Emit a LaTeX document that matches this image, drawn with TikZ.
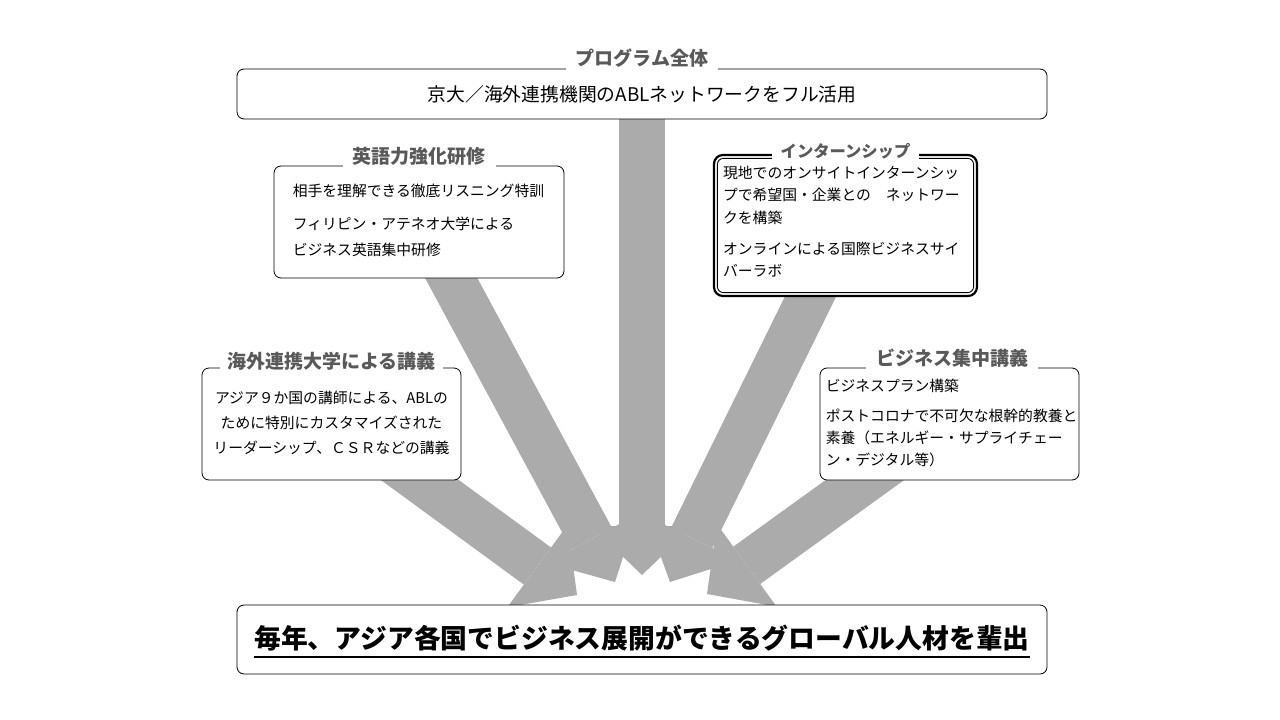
\documentclass[tikz,border=0pt]{standalone}
\usepackage{fontspec}
\setmainfont{Noto Sans CJK JP}
\usetikzlibrary{positioning,arrows.meta,backgrounds}
\definecolor{arrowgray}{RGB}{171,171,171}
\definecolor{titlegray}{RGB}{89,89,89}
\newcommand{\goalul}[1]{\setbox0\hbox{#1}\rlap{\rule[-9.5pt]{\wd0}{1.8pt}}\box0}

\begin{document}
\begin{tikzpicture}[x=1pt,y=-1pt,
    panel/.style={draw,fill=white,rounded corners=7pt,line width=0.8pt,inner sep=0pt},
    paneltitle/.style={fill=white,text=titlegray,font=\fontsize{19}{19}\selectfont\bfseries,inner xsep=10pt,inner ysep=3pt},
    paneltext/.style={inner sep=0pt,align=left,font=\fontsize{14.8}{22.5}\selectfont},
    fatarrow/.style={draw=arrowgray,line width=46pt,-{Triangle[length=49pt,width=102pt,line width=0pt]}}]
  \useasboundingbox (0,0) rectangle (1280,720);

  % whole programme
  \node[panel,minimum width=810pt,minimum height=50pt,font=\fontsize{18.8}{18.8}\selectfont] (prog) at (642,94) {京大／海外連携機関のABLネットワークをフル活用};
  \node[paneltitle] (progtitle) at ([yshift=10pt]prog.north) {プログラム全体};

  % english
  \node[panel,minimum width=290pt,minimum height=112pt] (eng) at (419,222) {};
  \node[paneltext,font=\fontsize{14.8}{26}\selectfont,below right=18.5pt and 19pt of eng.north west] (engtext)
    {相手を理解できる徹底リスニング特訓\\[7pt]フィリピン・アテネオ大学による\\ビジネス英語集中研修};
  \node[paneltitle] (engtitle) at ([yshift=9pt]eng.north) {英語力強化研修};

  % internship (double frame)
  \node[panel,line width=2.2pt,rounded corners=9pt,minimum width=263pt,minimum height=141pt] (intern) at (845.5,225.5) {};
  \draw[line width=0.9pt,rounded corners=6pt] ([shift={(4.5,4.5)}]intern.north west) rectangle ([shift={(-4.5,-4.5)}]intern.south east);
  \node[paneltext,below right=11.5pt and 10pt of intern.north west] (interntext)
    {現地でのオンサイトインターンシッ\\プで希望国・企業との　ネットワー\\クを構築\\[8.5pt]オンラインによる国際ビジネスサイ\\バーラボ};
  \node[paneltitle,font=\fontsize{16.3}{16.3}\selectfont\bfseries,inner xsep=9pt,inner ysep=1pt] (interntitle) at ([yshift=3pt]intern.north) {インターンシップ};

  % lectures by partner universities
  \node[panel,minimum width=259pt,minimum height=112pt] (lec) at (331.5,424) {};
  \node[paneltext,align=center,font=\fontsize{14.8}{25}\selectfont] (lectext) at ([yshift=1pt]lec.center)
    {アジア９か国の講師による、ABLの\\ために特別にカスタマイズされた\\リーダーシップ、ＣＳＲなどの講義};
  \node[paneltitle,inner xsep=7pt] (lectitle) at ([yshift=6pt]lec.north) {海外連携大学による講義};

  % business lectures
  \node[panel,minimum width=259pt,minimum height=112pt] (biz) at (949.5,424) {};
  \node[paneltext,font=\fontsize{14.8}{22}\selectfont,below right=11.5pt and 6pt of biz.north west] (biztext)
    {ビジネスプラン構築\\[8pt]ポストコロナで不可欠な根幹的教養と\\素養（エネルギー・サプライチェー\\ン・デジタル等）};
  \node[paneltitle] (biztitle) at ([shift={(2.5,-9)}]biz.north) {ビジネス集中講義};

  % goal
  \node[panel,minimum width=810pt,minimum height=69pt] (goal) at (642,639.5) {};
  \node[anchor=base,inner sep=0pt,font=\fontsize{26.8}{26.8}\selectfont\bfseries] (goaltext) at ([yshift=-8.5pt]goal.center)
    {\goalul{毎年、アジア各国でビジネス展開ができるグローバル人材を輩出}};

  % arrows into the goal
  \coordinate (tip1) at (577,595);
  \coordinate (tip2) at (615,582);
  \coordinate (tip3) at (642,575);
  \coordinate (tip4) at (670,582);
  \coordinate (tip5) at (707,594);
  \begin{scope}[on background layer]
    \draw[fatarrow] ([shift={(40.5,21)}]lec.center) -- (tip1);
    \draw[fatarrow] ([xshift=2pt]eng.center) -- (tip2);
    \draw[fatarrow] (prog.center) -- (tip3);
    \draw[fatarrow] (intern.center) -- (tip4);
    \draw[fatarrow] ([shift={(-37.5,22)}]biz.center) -- (tip5);
  \end{scope}
\end{tikzpicture}
\end{document}
